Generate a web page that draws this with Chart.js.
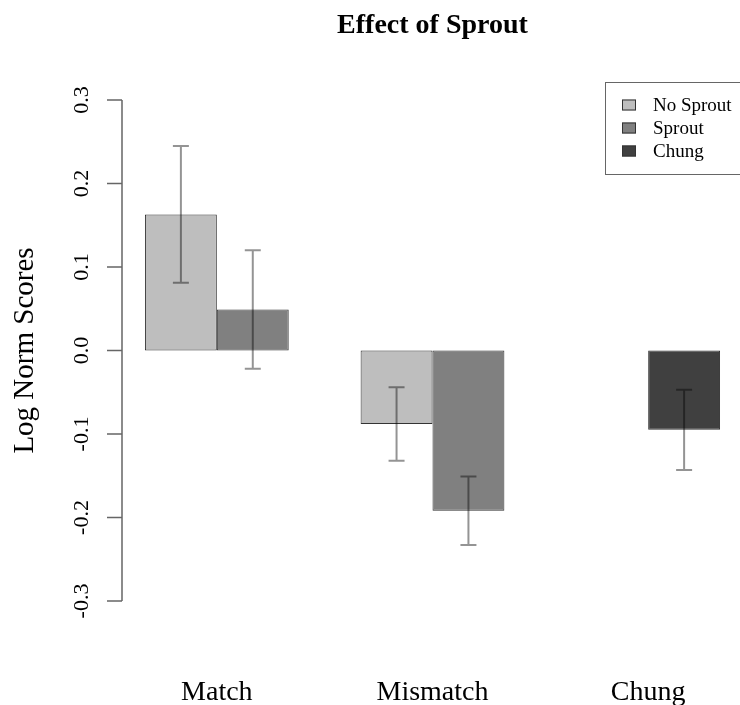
<!DOCTYPE html>
<html>
<head>
<meta charset="utf-8">
<script src="https://cdn.jsdelivr.net/npm/chart.js@4.4.1/dist/chart.umd.min.js"></script>
<style>
  html, body { margin: 0; padding: 0; background: #fff; overflow: hidden; }
  #wrap { width: 760px; height: 705px; }
</style>
</head>
<body>
<div id="wrap"><canvas id="chart" width="760" height="705"></canvas></div>
<script>
const categories = ['Match', 'Mismatch', 'Chung'];
const noSprout = [0.163, -0.088, null];
const sprout = [0.049, -0.192, null];
const chung = [null, null, -0.095];
const noSproutErr = [0.082, 0.044, null];
const sproutErr = [0.071, 0.041, null];
const chungErr = [null, null, 0.048];
const yTicks = [-0.3, -0.2, -0.1, 0.0, 0.1, 0.2, 0.3];

const SERIF = '"Liberation Serif", "DejaVu Serif", serif';

// error bars drawn on top of each bar, through the y scale
const errorBars = {
  id: 'errorBars',
  afterDatasetsDraw(chart) {
    const { ctx } = chart;
    const y = chart.scales.y;
    ctx.save();
    chart.data.datasets.forEach((ds, i) => {
      const meta = chart.getDatasetMeta(i);
      meta.data.forEach((bar, j) => {
        const v = ds.data[j];
        const e = ds.errors[j];
        if (v == null || e == null) return;
        const top = y.getPixelForValue(v + e);
        const bot = y.getPixelForValue(v - e);
        ctx.strokeStyle = 'rgba(0,0,0,0.42)';
        ctx.lineWidth = 2;
        ctx.beginPath();
        ctx.moveTo(bar.x, top);
        ctx.lineTo(bar.x, bot);
        ctx.moveTo(bar.x - 8, top);
        ctx.lineTo(bar.x + 8, top);
        ctx.moveTo(bar.x - 8, bot);
        ctx.lineTo(bar.x + 8, bot);
        ctx.stroke();
      });
    });
    ctx.restore();
  }
};

// R style y axis: line only between first and last tick, set in from the plot edge
const rAxis = {
  id: 'rAxis',
  afterDraw(chart) {
    const { ctx, chartArea } = chart;
    const y = chart.scales.y;
    const x0 = chartArea.left + 13;
    ctx.save();
    ctx.strokeStyle = '#666';
    ctx.lineWidth = 1.5;
    ctx.beginPath();
    ctx.moveTo(x0, y.getPixelForValue(yTicks[0]));
    ctx.lineTo(x0, y.getPixelForValue(yTicks[yTicks.length - 1]));
    yTicks.forEach((t) => {
      const py = y.getPixelForValue(t);
      ctx.moveTo(x0, py);
      ctx.lineTo(x0 - 15, py);
    });
    ctx.stroke();
    ctx.restore();
  }
};

// boxed legend in the top right corner
const boxLegend = {
  id: 'boxLegend',
  afterDraw(chart) {
    const { ctx, chartArea } = chart;
    const right = chartArea.right - 13;
    const top = chartArea.top - 18;
    const w = 138;
    const h = 92;
    const left = right - w;
    ctx.save();
    ctx.strokeStyle = '#666';
    ctx.lineWidth = 1;
    ctx.strokeRect(left + 0.5, top + 0.5, w, h);
    ctx.font = '19px ' + SERIF;
    ctx.textBaseline = 'middle';
    ctx.textAlign = 'left';
    chart.data.datasets.forEach((ds, i) => {
      const cy = top + 23 + i * 23;
      ctx.fillStyle = ds.backgroundColor;
      ctx.fillRect(left + 17, cy - 5.5, 14, 11);
      ctx.strokeStyle = '#333';
      ctx.strokeRect(left + 17.5, cy - 5, 13, 10);
      ctx.fillStyle = '#000';
      ctx.fillText(ds.label, left + 48, cy + 1);
    });
    ctx.restore();
  }
};

const barStyle = {
  borderColor: '#333',
  borderWidth: 1,
  borderSkipped: false,
  barPercentage: 1.0,
  categoryPercentage: 2 / 3,
};

new Chart(document.getElementById('chart'), {
  type: 'bar',
  data: {
    labels: categories,
    datasets: [
      { label: 'No Sprout', data: noSprout, errors: noSproutErr, backgroundColor: '#bebebe', stack: 'a', ...barStyle },
      { label: 'Sprout', data: sprout, errors: sproutErr, backgroundColor: '#808080', stack: 'b', ...barStyle },
      { label: 'Chung', data: chung, errors: chungErr, backgroundColor: '#404040', stack: 'b', ...barStyle },
    ],
  },
  options: {
    responsive: false,
    animation: false,
    layout: { padding: { left: 0, right: 4, top: 0, bottom: 0 } },
    plugins: {
      legend: { display: false },
      tooltip: { enabled: false },
      title: {
        display: true,
        text: 'Effect of Sprout',
        fullSize: false,
        color: '#000',
        font: { family: SERIF, size: 28, weight: 'bold', lineHeight: 1.2 },
        padding: { top: 9, bottom: 57.4 },
      },
    },
    scales: {
      x: {
        grid: { display: false, drawTicks: false },
        border: { display: false },
        ticks: {
          color: '#000',
          font: { family: SERIF, size: 28 },
          padding: 75,
        },
        afterFit: (s) => {
          s.height = 104;
          s.paddingLeft = 0;
          s.paddingRight = 0;
        },
      },
      y: {
        stacked: false,
        min: -0.3,
        max: 0.3,
        grid: { display: false, drawTicks: false },
        border: { display: false },
        afterBuildTicks: (s) => { s.ticks = yTicks.map((v) => ({ value: v })); },
        ticks: {
          color: '#000',
          font: { family: SERIF, size: 22 },
          minRotation: 90,
          maxRotation: 90,
          crossAlign: 'center',
          padding: 9,
          callback: (v) => Number(v).toFixed(1),
        },
        title: {
          display: true,
          text: 'Log Norm Scores',
          color: '#000',
          font: { family: SERIF, size: 29 },
          padding: { top: 8, bottom: 0 },
        },
        afterFit: (s) => { s.width = 109; },
      },
    },
  },
  plugins: [errorBars, rAxis, boxLegend],
});
</script>
</body>
</html>
